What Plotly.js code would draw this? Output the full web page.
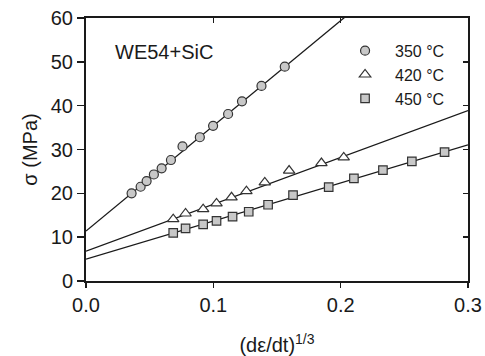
<!DOCTYPE html>
<html>
<head>
<meta charset="utf-8">
<script src="https://cdn.plot.ly/plotly-3.0.1.min.js"></script>
<style>html,body{margin:0;padding:0;background:#fff;}#chart{width:485px;height:356px;}</style>
</head>
<body>
<div id="chart"></div>
<script>
// ---- data ----
const seriesNames = ["350 °C", "420 °C", "450 °C"];

const x350 = [0.0358, 0.0429, 0.0476, 0.0533, 0.0594, 0.0667, 0.0758, 0.0894, 0.0998, 0.1116, 0.1225, 0.1378, 0.1561];
const y350 = [20.0, 21.5, 22.8, 24.3, 25.7, 27.6, 30.7, 32.8, 35.4, 38.1, 41.0, 44.5, 48.9];

const x420 = [0.0685, 0.0782, 0.0920, 0.1025, 0.1143, 0.1260, 0.1404, 0.1595, 0.1849, 0.2024];
const y420 = [14.1, 15.4, 16.4, 17.7, 19.1, 20.5, 22.5, 25.2, 26.9, 28.2];

const x450 = [0.0685, 0.0782, 0.0920, 0.1025, 0.1151, 0.1278, 0.1430, 0.1626, 0.1906, 0.2104, 0.2332, 0.2559, 0.2816];
const y450 = [11.0, 12.0, 12.9, 13.7, 14.7, 15.8, 17.4, 19.6, 21.4, 23.4, 25.3, 27.3, 29.4];

// linear fits (intercept, slope) shown as lines
const fitIntercepts = [11.4, 6.8, 5.0];
const fitSlopes = [240, 107, 86.8];
const fitXRange = [0, 0.3];

const xTickVals = [0, 0.1, 0.2, 0.3];
const xTickText = ["0.0", "0.1", "0.2", "0.3"];
const yTickVals = [0, 10, 20, 30, 40, 50, 60];

// ---- drawing ----
const FONT = "Liberation Sans, Arial, Helvetica, sans-serif";
const ink = "#1a1a1a";
const xs = [x350, x420, x450];
const ys = [y350, y420, y450];
const symbols = ["circle", "triangle-up", "square"];
const fills = ["#c8c8c8", "#ffffff", "#c8c8c8"];
const sizes = [9, 10, 8.5];

const traces = [];
for (let i = 0; i < 3; i++) {
  traces.push({
    type: "scatter", mode: "lines",
    x: fitXRange.slice(),
    y: fitXRange.map(v => fitIntercepts[i] + fitSlopes[i] * v),
    line: {color: ink, width: 1.3},
    showlegend: false, hoverinfo: "skip"
  });
}
for (let i = 0; i < 3; i++) {
  traces.push({
    type: "scatter", mode: "markers",
    name: seriesNames[i],
    x: xs[i], y: ys[i],
    marker: {symbol: symbols[i], size: sizes[i], color: fills[i], line: {color: "#333", width: 1.2}},
    cliponaxis: false
  });
}
traces.push({type: "scatter", mode: "markers", x: [null], y: [null], xaxis: "x2", yaxis: "y2", showlegend: false, hoverinfo: "skip"});

const layout = {
  width: 485, height: 356,
  margin: {l: 86, r: 17, t: 18, b: 75},
  paper_bgcolor: "#fff", plot_bgcolor: "#fff",
  font: {family: FONT, size: 20, color: ink},
  showlegend: true,
  legend: {
    x: 0.652, y: 0.94, xanchor: "left", yanchor: "top",
    font: {family: FONT, size: 16, color: ink},
    bgcolor: "rgba(0,0,0,0)", borderwidth: 0,
    itemwidth: 50, tracegroupgap: 0
  },
  xaxis: {
    range: [0, 0.3], tickvals: xTickVals, ticktext: xTickText,
    showgrid: false, zeroline: false,
    showline: true, linecolor: ink, linewidth: 2,
    ticks: "outside", ticklen: 5, tickwidth: 1.5, tickcolor: ink,
    tickfont: {family: FONT, size: 20, color: ink},
    title: {text: "(dε/dt)<sup>1/3</sup>", font: {family: FONT, size: 20, color: ink}, standoff: 24}
  },
  yaxis: {
    range: [0, 60], tickvals: yTickVals,
    showgrid: false, zeroline: false,
    showline: true, linecolor: ink, linewidth: 2,
    ticks: "outside", ticklen: 7, tickwidth: 1.5, tickcolor: ink,
    tickfont: {family: FONT, size: 20, color: ink},
    title: {text: "σ (MPa)", font: {family: FONT, size: 20, color: ink}, standoff: 8}
  },
  xaxis2: {
    overlaying: "x", side: "top", range: [0, 0.3], tickvals: xTickVals,
    showticklabels: false, showgrid: false, zeroline: false,
    showline: true, linecolor: ink, linewidth: 2,
    ticks: "inside", ticklen: 5, tickwidth: 1.5, tickcolor: ink
  },
  yaxis2: {
    overlaying: "y", side: "right", range: [0, 60], tickvals: yTickVals,
    showticklabels: false, showgrid: false, zeroline: false,
    showline: true, linecolor: ink, linewidth: 2,
    ticks: "inside", ticklen: 5, tickwidth: 1.5, tickcolor: ink
  },
  annotations: [{
    text: "WE54+SiC", xref: "paper", yref: "paper",
    x: 0.07, y: 0.87, xanchor: "left", yanchor: "middle",
    showarrow: false, font: {family: FONT, size: 20, color: ink}
  }]
};

Plotly.newPlot("chart", traces, layout, {staticPlot: true, displayModeBar: false});
</script>
</body>
</html>
